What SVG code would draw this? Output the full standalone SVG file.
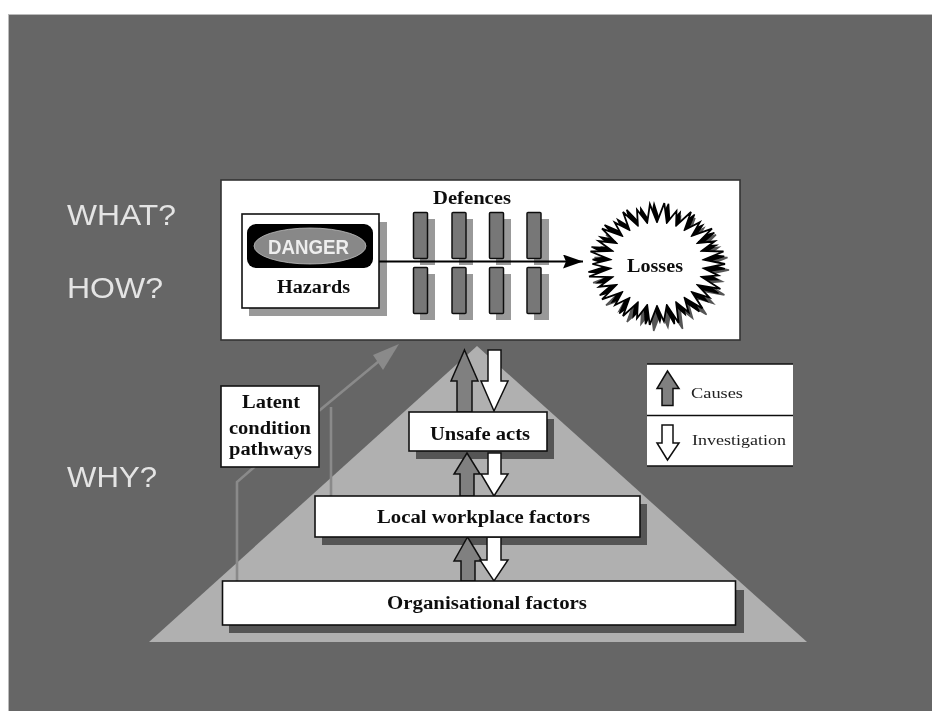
<svg xmlns="http://www.w3.org/2000/svg" xmlns:xlink="http://www.w3.org/1999/xlink" width="932" height="711" viewBox="0 0 932 711">
<style>
.box{fill:#fff;stroke:#111;stroke-width:1.6}
.sh{fill:#555}
.sl{fill:#999}
.bar{fill:#777;stroke:#111;stroke-width:1.5}
.up{fill:#808080;stroke:#111;stroke-width:1.5;stroke-linejoin:miter}
.dn{fill:#fff;stroke:#111;stroke-width:1.5;stroke-linejoin:miter}
.path{fill:none;stroke:#8a8a8a;stroke-width:2.6}
.q{font-family:"Liberation Sans",Arial,sans-serif;font-size:29px;fill:#e4e4e4}
.t{font-family:"Liberation Serif","Times New Roman",serif;font-weight:bold;font-size:18px;fill:#111;text-anchor:start}
.l{font-family:"Liberation Serif","Times New Roman",serif;font-size:15px;fill:#222}
</style>
<defs><filter id="soft" x="-2%" y="-2%" width="104%" height="104%"><feGaussianBlur stdDeviation="0.6"/></filter>
<marker id="ah" markerUnits="userSpaceOnUse" markerWidth="22" markerHeight="14" refX="20" refY="7" orient="auto"><path d="M0 0L20 7L0 14L3 7Z" fill="#000"/></marker>
<polygon id="burst" points="725,264 703.800,268.400 718.200,275.400 701.700,277 720.400,288.900 697.700,285 709.300,297.500 691.900,292.100 702.500,308.600 684.600,298 688.600,312.300 676.100,302.400 678.600,322.800 666.800,305.100 663.900,321.300 657,306 649.700,324.900 647.200,305.100 637,318.200 637.900,302.400 623,316 629.400,298 615.100,305 622.100,292.100 602,299.300 616.300,285 599.200,286.700 612.300,277 589.100,276.700 610.200,268.400 592.400,264 610.200,259.600 590.500,251.500 612.300,251 598.600,241 616.300,243 602,228.700 622.100,235.900 614.700,222.500 629.400,230 623,212 637.900,225.600 637,209.800 647.200,222.900 649.900,204.300 657,222 664.300,203.100 666.800,222.900 676.500,211 676.100,225.600 691,212 684.600,230 699.800,222.100 691.900,235.900 712,228.700 697.700,243 714.800,241.300 701.700,251 723.500,251.500 703.800,259.600"/></defs>
<rect width="932" height="711" fill="#fff"/>
<g filter="url(#soft)">
<rect x="8.500" y="14.500" width="924" height="697" fill="#666" stroke="#bbb" stroke-width="1"/>
<g id="labels">
<text class="q" x="67" y="225" textLength="109" lengthAdjust="spacingAndGlyphs">WHAT?</text>
<text class="q" x="67" y="298" textLength="96" lengthAdjust="spacingAndGlyphs">HOW?</text>
<text class="q" x="67" y="487" textLength="90" lengthAdjust="spacingAndGlyphs">WHY?</text>
</g>
<polygon id="pyramid" points="477,346 807,642 149,642" fill="#b0b0b0"/>
<g id="box-shadows">
<rect class="sh" x="416" y="419" width="138" height="40"/>
<rect class="sh" x="322" y="504" width="325" height="41"/>
<rect class="sh" x="229" y="590" width="515" height="43"/>
</g>
<g id="connectors">
<path class="path" d="M237 581V482L320 410L384 357"/>
<path class="path" d="M331 496V407"/>
<polygon points="399,344 373,355 383,370" fill="#8a8a8a"/>
<polygon class="up" points="464.500,350 478,381 472,381 472,412 457,412 457,381 451,381"/>
<polygon class="dn" points="488,350 501,350 501,381 508,381 494,411 481,381 488,381"/>
<polygon class="up" points="467,453 480,474 474,474 474,496 460,496 460,474 454,474"/>
<polygon class="dn" points="488,453 501,453 501,474 508,474 494,496 481,474 488,474"/>
<polygon class="up" points="467.500,537 482,561 475,561 475,581 461,581 461,561 454,561"/>
<polygon class="dn" points="487,537 501,537 501,560 508,560 494,581 480,560 487,560"/>
</g>
<g id="main-panel"><rect x="221" y="180" width="519" height="160" fill="#fff" stroke="#333" stroke-width="1.600"/></g>
<g id="defences">
<text class="t" x="433" y="204" textLength="78" lengthAdjust="spacingAndGlyphs">Defences</text>
<rect class="sl" x="420" y="219" width="15" height="46"/><rect class="sl" x="420" y="274" width="15" height="46"/>
<rect class="sl" x="459" y="219" width="14" height="46"/><rect class="sl" x="459" y="274" width="14" height="46"/>
<rect class="sl" x="496" y="219" width="15" height="46"/><rect class="sl" x="496" y="274" width="15" height="46"/>
<rect class="sl" x="534" y="219" width="15" height="46"/><rect class="sl" x="534" y="274" width="15" height="46"/>
<rect class="bar" x="413.500" y="212.500" width="14" height="46" rx="1"/><rect class="bar" x="413.500" y="267.500" width="14" height="46" rx="1"/>
<rect class="bar" x="452" y="212.500" width="14" height="46" rx="1"/><rect class="bar" x="452" y="267.500" width="14" height="46" rx="1"/>
<rect class="bar" x="489.500" y="212.500" width="14" height="46" rx="1"/><rect class="bar" x="489.500" y="267.500" width="14" height="46" rx="1"/>
<rect class="bar" x="527" y="212.500" width="14" height="46" rx="1"/><rect class="bar" x="527" y="267.500" width="14" height="46" rx="1"/>
</g>
<g id="hazards">
<rect class="sl" x="249" y="222" width="138" height="94"/>
<rect class="box" x="242" y="214" width="137" height="94"/>
<rect x="247" y="224" width="126" height="44" rx="9" fill="#000"/>
<ellipse cx="310" cy="246" rx="56" ry="18" fill="#888" stroke="#bbb" stroke-width="0.800"/>
<text x="268" y="254" textLength="81" lengthAdjust="spacingAndGlyphs" font-family="Liberation Sans, Arial, sans-serif" font-weight="bold" font-size="21" fill="#eee">DANGER</text>
<text class="t" x="277" y="293" textLength="73" lengthAdjust="spacingAndGlyphs">Hazards</text>
</g>
<g id="hazard-arrow"><line x1="379" y1="261.500" x2="583" y2="261.500" stroke="#000" stroke-width="2" marker-end="url(#ah)"/></g>
<g id="losses">
<use href="#burst" fill="#555" stroke="#555" stroke-width="1.500" transform="translate(4 6)"/>
<use href="#burst" fill="#000" stroke="#000" stroke-width="1.500" transform="rotate(4 657 264)"/>
<use href="#burst" fill="#fff" stroke="#000" stroke-width="1.800" stroke-linejoin="miter"/>
<ellipse cx="657" cy="264" rx="45" ry="41" fill="#fff"/>
<text class="t" x="627" y="271.500" textLength="56" lengthAdjust="spacingAndGlyphs">Losses</text>
</g>
<g id="latent">
<rect class="box" x="221" y="386" width="98" height="81"/>
<text class="t" x="242" y="408" textLength="58" lengthAdjust="spacingAndGlyphs">Latent</text>
<text class="t" x="229" y="434" textLength="82" lengthAdjust="spacingAndGlyphs">condition</text>
<text class="t" x="229" y="455" textLength="83" lengthAdjust="spacingAndGlyphs">pathways</text>
</g>
<g id="unsafe-acts">
<rect class="box" x="409" y="412" width="138" height="39"/>
<text class="t" x="430" y="440" textLength="100" lengthAdjust="spacingAndGlyphs">Unsafe acts</text>
</g>
<g id="local-workplace">
<rect class="box" x="315" y="496" width="325" height="41"/>
<text class="t" x="377" y="523" textLength="213" lengthAdjust="spacingAndGlyphs">Local workplace factors</text>
</g>
<g id="organisational">
<rect class="box" x="222.500" y="581" width="513" height="44"/>
<text class="t" x="387" y="609" textLength="200" lengthAdjust="spacingAndGlyphs">Organisational factors</text>
</g>
<g id="legend">
<rect x="647" y="364" width="146" height="102" fill="#fff"/>
<path d="M647 364H793M647 415.500H793M647 466H793" stroke="#111" stroke-width="1.500" fill="none"/>
<polygon class="up" points="667.500,371 679,388.500 673,388.500 673,405.500 662,405.500 662,388.500 657,388.500"/>
<polygon class="dn" points="662,425 673,425 673,443 679,443 667.500,460 657,443 662,443"/>
<text class="l" x="691" y="398" textLength="52" lengthAdjust="spacingAndGlyphs">Causes</text>
<text class="l" x="692" y="445" textLength="94" lengthAdjust="spacingAndGlyphs">Investigation</text>
</g>
</g>
</svg>
